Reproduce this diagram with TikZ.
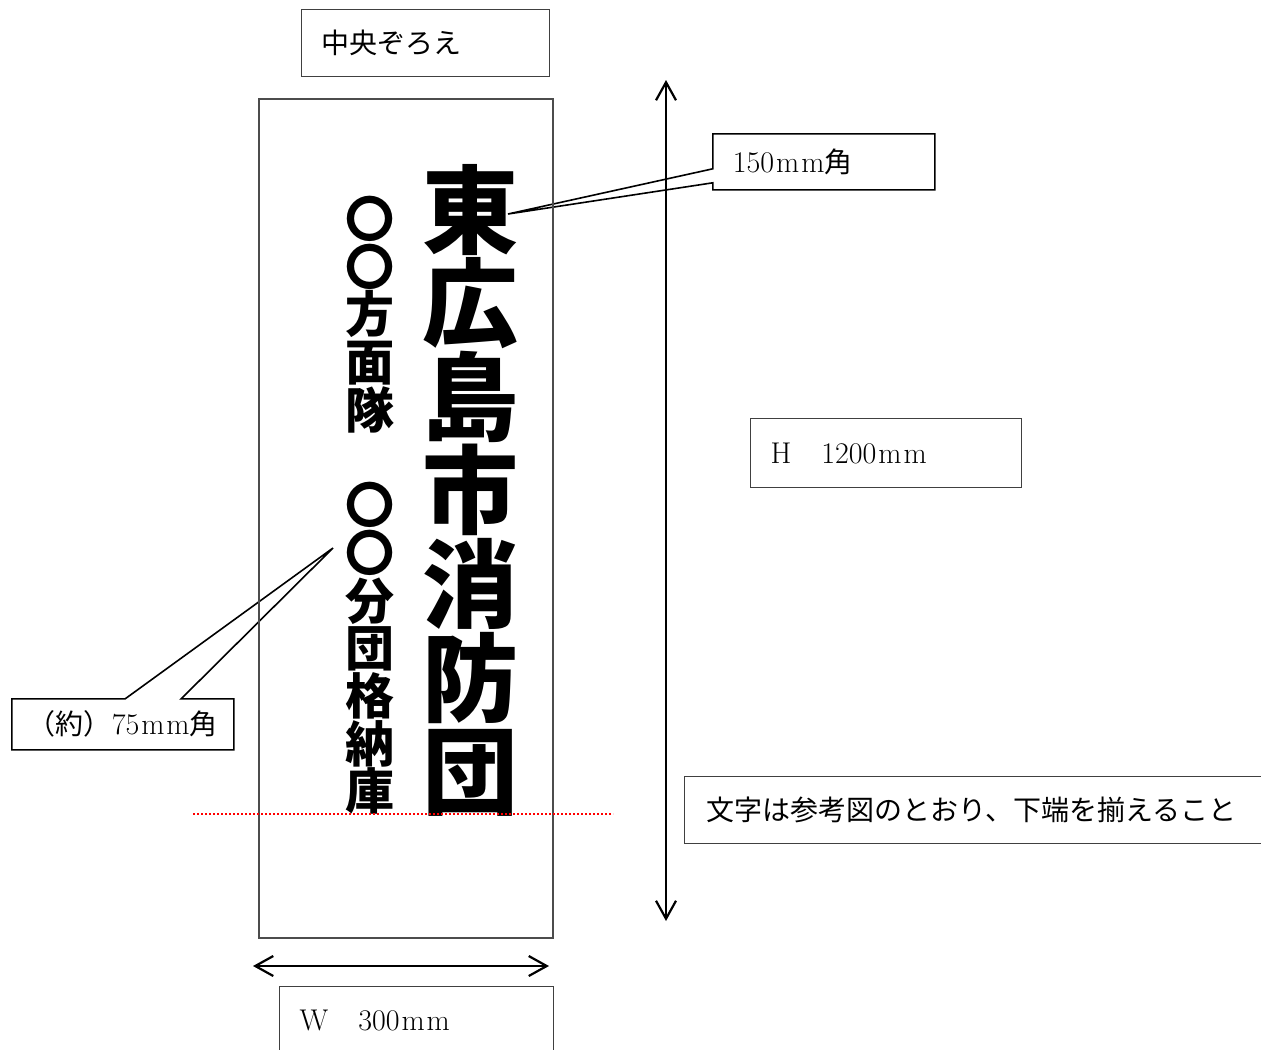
\documentclass[tikz,border=0pt]{standalone}
\usepackage{fontspec}
\newfontfamily\jpsans{Noto Sans CJK JP}
\usetikzlibrary{arrows.meta, shapes.callouts}
\newcommand{\notefont}{\fontsize{15pt}{17pt}\selectfont}
\newcommand{\jpnote}{\jpsans\fontsize{14pt}{17pt}\selectfont}
\tikzset{
    notebox/.style={
        rectangle, draw=black!75, line width=0.6pt,
        fill=white, anchor=north west, align=left,
        inner xsep=10pt, inner ysep=0pt, font=\notefont
    },
    callnote/.style={
        rectangle callout, draw=black, line width=0.8pt,
        fill=white, anchor=north west, align=left,
        inner xsep=10pt, inner ysep=0pt, font=\notefont
    },
    signboard/.style={
        rectangle, draw=black!70, line width=0.6pt,
        minimum width=147pt, minimum height=419.5pt
    },
    bigchars/.style={align=center, inner sep=0pt, anchor=south,
        font=\jpsans\bfseries\fontsize{48pt}{46.8pt}\selectfont},
    smallchars/.style={align=center, inner sep=0pt, anchor=south,
        font=\jpsans\bfseries\fontsize{24.5pt}{23.85pt}\selectfont},
    dimline/.style={draw=black, line width=1.1pt,
        {Straight Barb[length=9pt,width=10pt]}-{Straight Barb[length=9pt,width=10pt]}},
    bottomline/.style={draw=red, line width=0.8pt, dash pattern=on 0.8pt off 1.2pt}
}

\begin{document}
\begin{tikzpicture}[x=0.5pt, y=-0.5pt]
\useasboundingbox (0,0) rectangle (1261,1049);
\clip (0,0) rectangle (1261,1049);

% Callouts
\coordinate (t150) at (508,214);
\coordinate (t75) at (333,548);
\node[callnote, text width=91pt, minimum height=28pt,
      callout absolute pointer={(t150)}, callout pointer width=7pt]
      (big) at (712,133) {150\kern1pt m\kern1pt m{\jpnote 角}};
\node[callnote, text width=95pt, minimum height=25.5pt, inner xsep=8pt,
      callout absolute pointer={(t75)}, callout pointer width=28pt]
      (small) at (11,698) {{\jpnote （約）}75\kern1pt m\kern1pt m{\jpnote 角}};

% Sign
\node[signboard] (sign) at (406,518.5) {};
\node[bigchars] (name) at (470,817) {東\\広\\島\\市\\消\\防\\団};
\node[smallchars] (unit) at (370,815) {〇\\〇\\方\\面\\隊\\　\\〇\\〇\\分\\団\\格\\納\\庫};

% Bottom line
\coordinate (lineL) at (193,814);
\coordinate (lineR) at (613,814);
\draw[bottomline] (lineL) -- (lineR);

% Dimensions
\coordinate (htop) at (666,80);
\coordinate (hbot) at (666,921);
\draw[dimline] (htop) -- (hbot);
\coordinate (wleft) at (253,966);
\coordinate (wright) at (549,966);
\draw[dimline] (wleft) -- (wright);

% Notes
\node[notebox, text width=104pt, minimum height=33.5pt] (center) at (301,9) {{\jpnote 中央ぞろえ}};
\node[notebox, text width=115.5pt, minimum height=34.5pt] (height) at (750,418) {H\quad 1200\kern1pt m\kern1pt m};
\node[notebox, text width=117pt, minimum height=33.5pt] (width) at (279,986) {W\quad 300\kern1pt m\kern1pt m};
\node[notebox, text width=280pt, inner xsep=11pt, minimum height=33.5pt] (rule) at (684,776) {{\jpnote 文字は参考図のとおり、下端を揃えること}};

\end{tikzpicture}
\end{document}
